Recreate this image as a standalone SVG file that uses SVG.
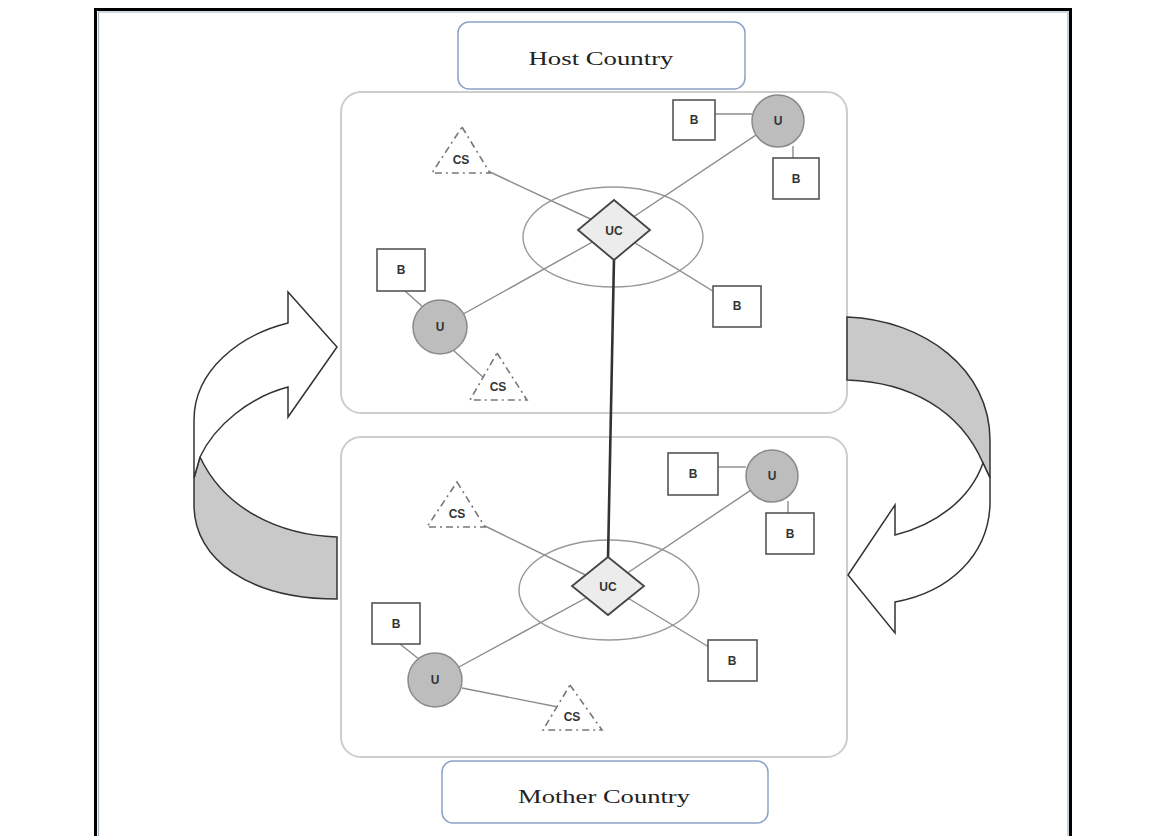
<svg xmlns="http://www.w3.org/2000/svg" width="1150" height="836" viewBox="0 0 1150 836">
<defs>
<style>
.lbl{fill:#fff;stroke:#8aa2c6;stroke-width:1.5}
.lbltxt{font-family:"Liberation Serif",serif;font-size:19px;fill:#222;text-anchor:middle}
.panel{fill:#fff;stroke:#cdcdcd;stroke-width:2}
.box{fill:#fff;stroke:#555;stroke-width:1.6}
.user{fill:#bdbdbd;stroke:#8a8a8a;stroke-width:1.5}
.cs{fill:#fff;stroke:#777;stroke-width:1.6;stroke-dasharray:7 4 2 4}
.uc{fill:#ececec;stroke:#444;stroke-width:1.8}
.ell{fill:none;stroke:#999;stroke-width:1.4}
.t{font-family:"Liberation Sans",Arial,sans-serif;font-weight:bold;font-size:12px;fill:#333;text-anchor:middle}
.conn{stroke:#8c8c8c;stroke-width:1.4;fill:none}
.thick{stroke:#333;stroke-width:2.6;fill:none}
.arw{fill:#fff;stroke:#333;stroke-width:1.5;stroke-linejoin:miter}
.arg{fill:#c9c9c9;stroke:#333;stroke-width:1.5}
</style>
</defs>
<rect width="1150" height="836" fill="#fff"/>
<!-- outer frame -->
<path d="M95.5,840 V9.5 H1070.5 V840" fill="none" stroke="#000" stroke-width="3"/>
<path d="M98.5,840 V12 H1068 V840" fill="none" stroke="#9fb2c4" stroke-width="1.2"/>

<!-- panels -->
<g id="host-panel"><rect class="panel" x="341" y="92" width="506" height="321" rx="20"/></g>
<g id="mother-panel"><rect class="panel" x="341" y="437" width="506" height="320" rx="20"/></g>

<!-- curved arrows -->
<g id="arrow-left">
<path class="arg" d="M200,457 L194,478 L194,505 C194,560 250,599 337,599 L337,537 C280,535 225,510 200,457 Z"/>
<path class="arw" d="M194,478 L194,420 C194,370 240,335 288,323 L288,292 L337,347 L288,417 L288,387 C250,397 215,425 200,457 Z"/>
</g>
<g id="arrow-right">
<path class="arg" d="M847,317 C925,320 990,370 990,440 L990,478 L983,463 C960,410 910,382 847,380 Z"/>
<path class="arw" d="M983,463 L990,478 L990,505 C988,555 950,592 895,602 L895,633 L848,575 L895,505 L895,535 C935,525 970,500 983,463 Z"/>
</g>

<!-- ellipses -->
<g id="zone-host"><ellipse class="ell" cx="613" cy="237" rx="90" ry="50"/></g>
<g id="zone-mother"><ellipse class="ell" cx="609" cy="590" rx="90" ry="50"/></g>

<!-- connectors -->
<g id="connectors">
<line class="conn" x1="715" y1="114" x2="752" y2="114"/>
<line class="conn" x1="793" y1="146" x2="793" y2="158"/>
<line class="conn" x1="490" y1="172" x2="614" y2="230"/>
<line class="conn" x1="614" y1="230" x2="777" y2="121"/>
<line class="conn" x1="614" y1="230" x2="440" y2="327"/>
<line class="conn" x1="614" y1="230" x2="737" y2="306"/>
<line class="conn" x1="405" y1="291" x2="424" y2="308"/>
<line class="conn" x1="453" y1="350" x2="484" y2="378"/>
<line class="thick" x1="614" y1="258" x2="608" y2="559"/>
<line class="conn" x1="718" y1="467" x2="746" y2="467"/>
<line class="conn" x1="788" y1="501" x2="788" y2="513"/>
<line class="conn" x1="485" y1="526" x2="608" y2="586"/>
<line class="conn" x1="608" y1="586" x2="772" y2="476"/>
<line class="conn" x1="608" y1="586" x2="435" y2="680"/>
<line class="conn" x1="608" y1="586" x2="732" y2="661"/>
<line class="conn" x1="400" y1="644" x2="420" y2="660"/>
<line class="conn" x1="462" y1="688" x2="558" y2="707"/>
</g>

<!-- labels -->
<g id="host-country"><rect class="lbl" x="458" y="22" width="287" height="67" rx="11"/><text class="lbltxt" x="601" y="65" textLength="145" lengthAdjust="spacingAndGlyphs">Host Country</text></g>
<g id="mother-country"><rect class="lbl" x="442" y="761" width="326" height="62" rx="11"/><text class="lbltxt" x="604" y="803" textLength="172" lengthAdjust="spacingAndGlyphs">Mother Country</text></g>

<!-- host nodes -->
<g id="h-b1"><rect class="box" x="673" y="100" width="42" height="40"/><text class="t" x="694" y="124">B</text></g>
<g id="h-u1"><circle class="user" cx="778" cy="121" r="26"/><text class="t" x="778" y="125">U</text></g>
<g id="h-b2"><rect class="box" x="773" y="158" width="46" height="41"/><text class="t" x="796" y="183">B</text></g>
<g id="h-cs1"><polygon class="cs" points="462,127 490,173 432,173"/><text class="t" x="461" y="164">CS</text></g>
<g id="h-uc"><polygon class="uc" points="614,200 650,230 614,260 578,230"/><text class="t" x="614" y="235">UC</text></g>
<g id="h-b3"><rect class="box" x="713" y="286" width="48" height="41"/><text class="t" x="737" y="310">B</text></g>
<g id="h-b4"><rect class="box" x="377" y="249" width="48" height="42"/><text class="t" x="401" y="274">B</text></g>
<g id="h-u2"><circle class="user" cx="440" cy="327" r="27"/><text class="t" x="440" y="331">U</text></g>
<g id="h-cs2"><polygon class="cs" points="497,353 527,400 470,400"/><text class="t" x="498" y="391">CS</text></g>

<!-- mother nodes -->
<g id="m-b1"><rect class="box" x="668" y="453" width="50" height="42"/><text class="t" x="693" y="478">B</text></g>
<g id="m-u1"><circle class="user" cx="772" cy="476" r="26"/><text class="t" x="772" y="480">U</text></g>
<g id="m-b2"><rect class="box" x="766" y="513" width="48" height="41"/><text class="t" x="790" y="538">B</text></g>
<g id="m-cs1"><polygon class="cs" points="457,482 485,527 427,527"/><text class="t" x="457" y="518">CS</text></g>
<g id="m-uc"><polygon class="uc" points="608,557 644,586 608,615 572,586"/><text class="t" x="608" y="591">UC</text></g>
<g id="m-b3"><rect class="box" x="708" y="640" width="49" height="41"/><text class="t" x="732" y="665">B</text></g>
<g id="m-b4"><rect class="box" x="372" y="603" width="48" height="41"/><text class="t" x="396" y="628">B</text></g>
<g id="m-u2"><circle class="user" cx="435" cy="680" r="27"/><text class="t" x="435" y="684">U</text></g>
<g id="m-cs2"><polygon class="cs" points="570,685 602,730 543,730"/><text class="t" x="572" y="721">CS</text></g>
</svg>
